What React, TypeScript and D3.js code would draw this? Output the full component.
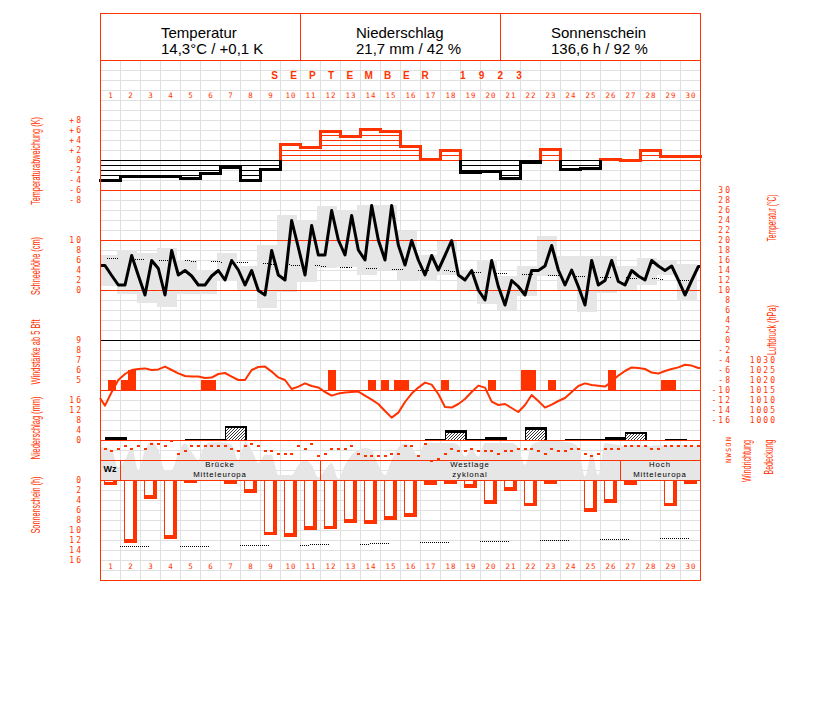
import React from 'react';
import * as d3 from 'd3';

const RED = '#ff3300';
const GRID = '#e0e0e0';
const GRAY = '#e6e6e6';

const headerTitles = ['Temperatur', 'Niederschlag', 'Sonnenschein'];
const headerValues = ['14,3°C / +0,1 K', '21,7 mm / 42 %', '136,6 h / 92 %'];
const monthChars = 'SEPTEMBER 1923'.split('');

const days = d3.range(1, 31);
const readingHours = [6, 14, 22];

// daily temperature anomaly (K)
const tempAnomaly = [-4.1, -3.2, -3.3, -3.2, -3.7, -2.7, -1.5, -4.1, -1.9, 3.2, 2.5, 5.7, 4.8, 6.2, 5.8, 2.7, 0.1, 1.9, -2.5, -2.3, -3.7, -0.4, 2.1, -1.9, -1.7, 0.2, 0.0, 1.9, 0.7, 0.7];

// temperature readings, 3 per day (°C)
const tempReadings = [
  14.9, 12.9, 11, 11, 16.9, 12.9, 9, 15.9, 14.3, 9, 17.9, 13, 13.9, 12.8, 11,
  11, 12.8, 13.9, 12, 15.9, 14, 11, 13.9, 9.9, 9, 17.9, 13, 12, 23.9, 18.5,
  13, 22.9, 17, 17, 25.9, 20, 17, 24.9, 18, 16, 26.9, 20, 16, 26.9, 19,
  15, 19.9, 16, 13, 16.9, 14, 16.9, 19.9, 13, 12, 13.9, 10, 8, 15.9, 10.7,
  7, 11.9, 10.7, 9, 13.9, 13.9, 14.8, 18.9, 14, 11, 14, 10.7, 7, 15.9, 11,
  11.9, 15.9, 11.7, 11, 13.9, 12.8, 12, 15.9, 14.8, 13.9, 14.8, 12, 9, 11.9, 14.7,
];
const tempMax = [17, 18, 17.5, 18.5, 16, 14, 17.5, 14.8, 19, 25, 24, 26.8, 26.1, 27, 27, 21.9, 17, 19.9, 14, 16, 12.8, 14.8, 20.9, 16.8, 16.8, 16.8, 14.8, 16.4, 16.1, 15.3];
const tempMin = [10.8, 9.3, 7.5, 6.7, 9.3, 9.3, 11.9, 10, 6.5, 9.7, 11.7, 14.5, 14.7, 13, 14, 12, 11.9, 13, 10, 7.3, 6, 8.8, 12.8, 9.8, 5.7, 9.5, 10.1, 11, 13, 7.9];
const tempNormal = [16.3, 16.2, 16.0, 15.9, 15.8, 15.7, 15.5, 15.4, 15.2, 15.0, 14.9, 14.7, 14.5, 14.3, 14.1, 14.0, 13.9, 13.8, 13.6, 13.4, 13.3, 13.1, 12.9, 12.8, 12.7, 12.5, 12.4, 12.3, 12.1, 11.9];

// air pressure, 3 per day (hPa)
const pressureStart = 1011;
const pressure = [
  1007.2, 1014, 1020, 1023, 1025, 1025.5, 1025.8, 1025, 1025.3, 1026.7, 1025, 1023.3,
  1022, 1021.8, 1021.7, 1021, 1021.2, 1023, 1023.5, 1021.7, 1020, 1020, 1025, 1026.5,
  1026.7, 1024.2, 1021.3, 1020, 1015.5, 1016.7, 1018.3, 1017, 1016.3, 1014, 1012.2, 1013.2,
  1013.7, 1014, 1014.2, 1012.2, 1010.2, 1008, 1004.5, 1001.2, 1003.7, 1009, 1013.2, 1016.2,
  1018.7, 1017.7, 1013, 1006.5, 1006.2, 1008, 1010.5, 1014, 1017.2, 1016.2, 1009.2, 1007.5,
  1008, 1006, 1004, 1007.5, 1012.5, 1009.5, 1006.2, 1007.7, 1009.5, 1011, 1014, 1017,
  1018.3, 1017.5, 1017.1, 1016.7, 1019.2, 1022.2, 1024.5, 1026.3, 1026, 1025.5, 1023.7, 1023.2,
  1024.5, 1025.5, 1026.3, 1027.6, 1027.2, 1026,
];

// wind force (Bft), 3 per day; 0 = below 5 Bft
const windBft = [
  0, 5, 0, 5, 6, 0, 0, 0, 0, 0, 0, 0, 0, 0, 0, 5, 5, 0, 0, 0, 0, 0, 0, 0, 0, 0, 0, 0, 0, 0,
  0, 0, 0, 0, 6, 0, 0, 0, 0, 0, 5, 0, 5, 0, 5, 5, 0, 0, 0, 0, 0, 5, 0, 0, 0, 0, 0, 0, 5, 0,
  0, 0, 0, 6, 6, 0, 0, 5, 0, 0, 0, 0, 0, 0, 0, 0, 6, 0, 0, 0, 0, 0, 0, 0, 5, 5, 0, 0, 0, 0,
];

// wind direction, 3 per day (0=N, 2=O, 4=S, 6=W, 8=N)
const windDir = [
  3, 4, 3, 2, 3, 2, 3, 1, 1, 2, 0, 5, 4, 2, 2, 2, 2, 2, 2, 3, 4, 2, 1, 2, 4, 4, 5, 5, 5, 2,
  3, 1, 6, 5, 3, 3, 3, 2, 5, 6, 6, 6, 6, 5, 5, 2, 2, 6, 1, 8, 7, 5, 3, 4, 4, 3, 4, 4, 4, 5,
  4, 4, 3, 3, 3, 4, 5, 3, 4, 4, 3, 3, 5, 6, 5, 3, 3, 3, 2, 2, 2, 2, 3, 3, 2, 2, 2, 2, 2, 2,
];

// cloud cover, 3 per day (okta)
const cloudCover = [
  6.5, 6, 2.5, 4, 6.6, 2, 6, 7.7, 6, 2, 2, 5.5, 7.3, 5.5, 4, 7, 7.5, 7.5, 7.5, 7, 4, 7.6, 6, 3.4, 5, 5, 1, 1, 1, 3,
  4, 3, 0.5, 2, 3.4, 0.2, 3, 5, 6, 6.4, 6, 3, 1, 4, 6.5, 7.3, 6.5, 4.7, 7.4, 7.4, 7.4, 7.4, 7.4, 7, 4.7, 6, 4.7, 7.4, 7.4, 7.4,
  7.4, 7.4, 6.5, 3, 7, 7.6, 7.8, 7.8, 7.8, 7.6, 7.4, 6.5, 0.7, 5.4, 1, 7.4, 7.2, 7, 6.8, 7, 7, 6.8, 6.8, 7, 6.8, 6.8, 7, 7, 6.8, 6.8,
];

// daily precipitation (mm)
const precip = [1.1, 0, 0, 0, 0.1, 0.1, 5.6, 0, 0, 0, 0, 0, 0, 0, 0, 0, 0.1, 3.9, 0.1, 1.1, 0, 5.1, 0, 0.1, 0.1, 1.1, 3.2, 0, 0.1, 0];
// daily sunshine (h)
const sunshine = [1, 12.5, 3.7, 11.7, 0.5, 0, 0.7, 2.5, 11, 11.3, 9.9, 9.8, 8.5, 8.7, 7.9, 7.3, 0.9, 0.7, 1.5, 4.7, 2.1, 5.2, 0.7, 0, 6.3, 4.5, 0.9, 0, 5.2, 0.7];
// astronomically possible sunshine (h)
const dayLength = [13.4, 13.3, 13.3, 13.2, 13.2, 13.2, 13.1, 13.1, 13.0, 13.0, 13.0, 12.9, 12.9, 12.8, 12.7, 12.6, 12.5, 12.5, 12.4, 12.3, 12.3, 12.2, 12.1, 12.1, 12.0, 11.9, 11.9, 11.8, 11.7, 11.7];

// weather types
const wtLine1 = ['Wz', 'Brücke', 'Westlage', 'Hoch'];
const wtLine2 = ['', 'Mitteleuropa', 'zyklonal', 'Mitteleuropa'];
const wtFirstDay = [1, 2, 12, 27];
const wtLastDay = [1, 11, 26, 30];

// tick labels
const anomalyTicks = [8, 6, 4, 2, 0, -2, -4, -6, -8];
const snowTicks = [10, 8, 6, 4, 2, 0];
const bftTicks = [9, 8, 7, 6, 5];
const precipTicks = [16, 12, 8, 4, 0];
const sunTicks = [0, 2, 4, 6, 8, 10, 12, 14, 16];
const tempTicks = [30, 28, 26, 24, 22, 20, 18, 16, 14, 12, 10, 8, 6, 4, 2, 0, -2, -4, -6, -8, -10, -12, -14, -16];
const pressureTicks = [1030, 1025, 1020, 1015, 1010, 1005, 1000];
const dirTicks = ['N', 'O', 'S', 'W', 'N'];

const leftTitles = ['Temperaturabweichung (K)', 'Schneehöhe (cm)', 'Windstärke ab 5 Bft', 'Niederschlag (mm)', 'Sonnenschein (h)'];
const rightTitles = ['Temperatur (°C)', 'Luftdruck (hPa)', 'Windrichtung', 'Bedeckung'];

const MONO = "'DejaVu Sans Mono', monospace";
const SANS = "'Liberation Sans', Arial, sans-serif";

export default function App() {
  const L = 100, R = 700;
  const x = d3.scaleLinear().domain([0, 30]).range([L, R]);
  const yAnom = d3.scaleLinear().domain([-8, 8]).range([200, 120]);
  const yTemp = d3.scaleLinear().domain([-16, 30]).range([420, 190]);
  const ySnow = d3.scaleLinear().domain([0, 10]).range([290, 240]);
  const yBft = d3.scaleLinear().domain([4, 9]).range([390, 340]);
  const yPres = d3.scaleLinear().domain([1000, 1030]).range([420, 360]);
  const yPrec = d3.scaleLinear().domain([0, 16]).range([440, 400]);
  const yDir = d3.scaleLinear().domain([0, 8]).range([440, 460]);
  const yCloud = d3.scaleLinear().domain([0, 8]).range([480, 440]);
  const ySun = d3.scaleLinear().domain([0, 16]).range([480, 560]);

  const tRead = (i: number) => Math.floor(i / 3) + readingHours[i % 3] / 24;

  // grid
  const gridV = d3.range(0, 31).map((k) => x(k));
  const gridH = d3.range(60, 581, 10);

  // anomaly
  const anom: any[] = [];
  tempAnomaly.forEach((v, d) => {
    const col = v >= 0 ? RED : '#000';
    const sgn = v >= 0 ? 1 : -1;
    const n = Math.floor(Math.abs(v) + 0.001);
    for (let k = 0; k <= n; k++) {
      if (k > 0 && Math.abs(Math.abs(v) - k) < 0.25) continue;
      const yy = Math.round(yAnom(sgn * k)) + 0.5;
      anom.push(<line key={`a${d}-${k}`} x1={x(d)} x2={x(d + 1)} y1={yy} y2={yy} stroke={col} strokeWidth={1} />);
    }
    anom.push(<line key={`at${d}`} x1={x(d)} x2={x(d + 1)} y1={yAnom(v)} y2={yAnom(v)} stroke={col} strokeWidth={3} strokeLinecap="square" />);
    if (d > 0) {
      const p = tempAnomaly[d - 1];
      const xx = x(d);
      if (p >= 0 && v >= 0) {
        anom.push(<line key={`ar${d}`} x1={xx} x2={xx} y1={yAnom(p)} y2={yAnom(v)} stroke={RED} strokeWidth={3} />);
      } else if (p < 0 && v < 0) {
        anom.push(<line key={`ar${d}`} x1={xx} x2={xx} y1={yAnom(p)} y2={yAnom(v)} stroke="#000" strokeWidth={3} />);
      } else {
        const hi = Math.max(p, v), lo = Math.min(p, v);
        anom.push(<line key={`ar${d}r`} x1={xx} x2={xx} y1={yAnom(hi)} y2={yAnom(0)} stroke={RED} strokeWidth={3} />);
        anom.push(<line key={`ar${d}b`} x1={xx} x2={xx} y1={yAnom(0)} y2={yAnom(lo)} stroke="#000" strokeWidth={3} />);
      }
    }
  });

  const tempPts: [number, number][] = [[0, tempReadings[0]], ...tempReadings.map((v, i) => [tRead(i), v] as [number, number]), [30, tempReadings[tempReadings.length - 1]]];
  const tempLine = d3.line<[number, number]>().x((d) => x(d[0])).y((d) => yTemp(d[1]))(tempPts) || '';

  const normPts: [number, number][] = [[0, tempNormal[0]], ...tempNormal.map((v, d) => [d + 0.5, v] as [number, number]), [30, tempNormal[29]]];
  const normLine = d3.line<[number, number]>().x((d) => x(d[0])).y((d) => yTemp(d[1]))(normPts) || '';

  const presPts: [number, number][] = [[0, pressureStart], ...pressure.map((v, i) => [tRead(i), v] as [number, number]), [30, pressure[pressure.length - 1]]];
  const presLine = d3.line<[number, number]>().x((d) => x(d[0])).y((d) => yPres(d[1]))(presPts) || '';

  const cloudPts: [number, number][] = [[0, cloudCover[0]], ...cloudCover.map((v, i) => [tRead(i), v] as [number, number]), [30, cloudCover[cloudCover.length - 1]]];
  const cloudArea = d3.area<[number, number]>().x((d) => x(d[0])).y0(yCloud(0)).y1((d) => yCloud(d[1])).curve(d3.curveMonotoneX)(cloudPts) || '';

  const sunPts: [number, number][] = [[0, dayLength[0]], ...dayLength.map((v, d) => [d + 0.5, v] as [number, number]), [30, dayLength[29]]];
  const sunLine = d3.line<[number, number]>().x((d) => x(d[0])).y((d) => ySun(d[1]))(sunPts) || '';

  const normDash = '1,1,1,1,1,1,1,1,1,1,1,15';
  const sunDash = [...d3.range(14).flatMap(() => [1, 1]), 1, 31].join(',');

  const tickTxt = (key: string, xx: number, yy: number, s: string) => (
    <text key={key} x={xx} y={yy + 3} textAnchor="end" fill={RED} fontFamily={MONO} fontSize={8} style={{ letterSpacing: '2px' }}>{s}</text>
  );

  const leftY = [161, 266, 352, 428, 505];
  const leftLen = [88, 58, 65, 63, 57];
  const rightX = [776, 776, 751, 773];
  const rightY = [218, 330, 461, 457];
  const rightLen = [47, 50, 42, 35];
  const headerStart = [161, 356, 551];
  const monthX = (k: number) => 274.7 + 18.8 * k;

  return (
    <svg width={827} height={702} style={{ position: 'absolute', left: 0, top: 0, background: '#fff' }} fontFamily={SANS}>
      <defs>
        <pattern id="hatch" patternUnits="userSpaceOnUse" width="3" height="3">
          <rect width="3" height="3" fill="#fff" />
          <path d="M-1,1 l2,-2 M0,3 l3,-3 M2,4 l2,-2" stroke="#000" strokeWidth="0.8" />
        </pattern>
      </defs>
      <rect x={0} y={0} width={827} height={702} fill="#fff" />

      {/* grid */}
      <g shapeRendering="crispEdges" stroke={GRID} strokeWidth={1}>
        {gridV.map((gx, i) => <line key={`gv${i}`} x1={gx} x2={gx} y1={60} y2={580} />)}
        {gridH.map((gy, i) => <line key={`gh${i}`} x1={L} x2={R} y1={gy} y2={gy} />)}
      </g>

      {/* temperature min/max boxes */}
      <g shapeRendering="crispEdges">
        {tempMax.map((mx, d) => {
          const x0 = Math.max(L, x(d - 1 / 6));
          const x1 = Math.min(R, x(d + 1 - 1 / 6));
          return <rect key={`tb${d}`} x={x0} width={x1 - x0} y={yTemp(mx)} height={yTemp(tempMin[d]) - yTemp(mx)} fill={GRAY} />;
        })}
      </g>

      {/* cloud cover */}
      <path d={cloudArea} fill={GRAY} />

      {/* panel lines */}
      <g shapeRendering="crispEdges">
        {[190, ySnow(10), ySnow(0), 390, 440, 460, 480].map((ly, i) => (
          <line key={`pl${i}`} x1={L} x2={R} y1={ly} y2={ly} stroke={RED} strokeWidth={1} />
        ))}
        <line x1={L} x2={R} y1={yTemp(0)} y2={yTemp(0)} stroke="#000" strokeWidth={1} />
      </g>

      {/* temperature normal */}
      <path d={normLine} fill="none" stroke="#000" strokeWidth={1} strokeDasharray={normDash} strokeDashoffset={19.3} shapeRendering="crispEdges" />
      {/* temperature line */}
      <path d={tempLine} fill="none" stroke="#000" strokeWidth={3} strokeLinejoin="round" />

      {/* temperature anomaly */}
      <g shapeRendering="crispEdges">{anom}</g>

      {/* wind force bars */}
      <g shapeRendering="crispEdges">
        {windBft.map((v, i) => (v >= 5 ? (
          <rect key={`bf${i}`} x={x(tRead(i)) - 4} width={8} y={yBft(v)} height={yBft(4) - yBft(v)} fill={RED} />
        ) : null))}
      </g>

      {/* pressure */}
      <path d={presLine} fill="none" stroke={RED} strokeWidth={2} strokeLinejoin="round" />

      {/* precipitation */}
      <g shapeRendering="crispEdges">
        {precip.map((v, d) => {
          if (v <= 0) return null;
          const x0 = x(d + 0.25);
          const yv = Math.min(yPrec(v), yPrec(0) - 1.3);
          const h = yPrec(0) - yv;
          return (
            <g key={`pr${d}`}>
              <rect x={x0} width={21.5} y={yv} height={h} fill="#000" />
              {h > 3 ? <rect x={x0 + 1} width={18.5} y={yv + 2.3} height={h - 2.3} fill="url(#hatch)" /> : null}
            </g>
          );
        })}
      </g>

      {/* wind direction */}
      <g shapeRendering="crispEdges">
        {windDir.map((v, i) => (
          <rect key={`wd${i}`} x={x(tRead(i)) - 1.5} width={3} y={yDir(v)} height={2} fill={RED} />
        ))}
      </g>

      {/* weather types */}
      <g>
        {wtLine1.map((t, k) => {
          const xa = x(wtFirstDay[k] - 1), xb = x(wtLastDay[k]);
          const cx = (xa + xb) / 2;
          return (
            <g key={`wt${k}`}>
              <line x1={xa} x2={xa} y1={460} y2={480} stroke={RED} shapeRendering="crispEdges" />
              {wtLine2[k] ? (
                <>
                  <text x={cx} y={467.3} textAnchor="middle" fontSize={7.8} style={{ letterSpacing: '0.9px' }} fill="#000">{t}</text>
                  <text x={cx} y={477} textAnchor="middle" fontSize={7.8} style={{ letterSpacing: '0.9px' }} fill="#000">{wtLine2[k]}</text>
                </>
              ) : (
                <text x={cx} y={472} textAnchor="middle" fontSize={9} fontWeight="bold" fill="#000">{t}</text>
              )}
            </g>
          );
        })}
      </g>

      {/* sunshine */}
      <g shapeRendering="crispEdges">
        {sunshine.map((v, d) => {
          if (v <= 0) return null;
          const x0 = x(d + 0.2);
          const yv = ySun(v);
          const inner = yv - 3.5 - 481.2;
          return (
            <g key={`su${d}`}>
              <rect x={x0} width={12.7} y={480} height={yv - 480} fill={RED} />
              {inner > 0 ? <rect x={x0 + 1.2} width={8} y={481.2} height={inner} fill="#fff" /> : null}
            </g>
          );
        })}
      </g>
      <path d={sunLine} fill="none" stroke="#000" strokeWidth={1} strokeDasharray={sunDash} strokeDashoffset={40} shapeRendering="crispEdges" />

      {/* day numbers */}
      {days.map((dn, d) => (
        <text key={`dt${d}`} x={x(d + 0.5) + 1} y={98} textAnchor="middle" fill={RED} fontFamily={MONO} fontSize={7.5} style={{ letterSpacing: '1px' }}>{dn}</text>
      ))}
      {days.map((dn, d) => (
        <text key={`db${d}`} x={x(d + 0.5) + 1} y={569} textAnchor="middle" fill={RED} fontFamily={MONO} fontSize={7.5} style={{ letterSpacing: '1px' }}>{dn}</text>
      ))}

      {/* month label */}
      {monthChars.map((c, k) => (
        <text key={`m${k}`} x={monthX(k)} y={78.5} textAnchor="middle" fill={RED} fontSize={10} fontWeight="bold">{c}</text>
      ))}

      {/* header */}
      <g shapeRendering="crispEdges" stroke={RED} fill="none">
        <rect x={L} y={13} width={R - L} height={567} />
        <line x1={L} x2={R} y1={60} y2={60} />
        <line x1={300} x2={300} y1={13} y2={60} />
        <line x1={500} x2={500} y1={13} y2={60} />
      </g>
      {headerTitles.map((t, k) => (
        <g key={`h${k}`}>
          <text x={headerStart[k]} y={37.5} fontSize={15} fill="#000">{t}</text>
          <text x={headerStart[k]} y={53.5} fontSize={15} fill="#000">{headerValues[k]}</text>
        </g>
      ))}

      {/* left ticks */}
      {anomalyTicks.map((v, k) => tickTxt(`ta${k}`, 83, yAnom(v), v > 0 ? `+${v}` : `${v}`))}
      {snowTicks.map((v, k) => tickTxt(`ts${k}`, 83, ySnow(v), `${v}`))}
      {bftTicks.map((v, k) => tickTxt(`tb${k}`, 83, yBft(v), `${v}`))}
      {precipTicks.map((v, k) => tickTxt(`tp${k}`, 83, yPrec(v), `${v}`))}
      {sunTicks.map((v, k) => tickTxt(`tu${k}`, 83, ySun(v), `${v}`))}
      {/* right ticks */}
      {tempTicks.map((v, k) => tickTxt(`tt${k}`, 732, yTemp(v), `${v}`))}
      {pressureTicks.map((v, k) => tickTxt(`tq${k}`, 777, yPres(v), `${v}`))}
      <text transform={`translate(731,${yDir(4)}) rotate(-90)`} textAnchor="middle" fill={RED} fontFamily={MONO} fontSize={7} textLength={26} lengthAdjust="spacing">{[...dirTicks].reverse().join('')}</text>

      {/* axis titles */}
      {leftTitles.map((t, k) => (
        <text key={`lt${k}`} transform={`translate(40,${leftY[k]}) rotate(-90)`} textAnchor="middle" fill={RED} fontSize={12} textLength={leftLen[k]} lengthAdjust="spacingAndGlyphs">{t}</text>
      ))}
      {rightTitles.map((t, k) => (
        <text key={`rt${k}`} transform={`translate(${rightX[k]},${rightY[k]}) rotate(-90)`} textAnchor="middle" fill={RED} fontSize={12} textLength={rightLen[k]} lengthAdjust="spacingAndGlyphs">{t}</text>
      ))}
    </svg>
  );
}
